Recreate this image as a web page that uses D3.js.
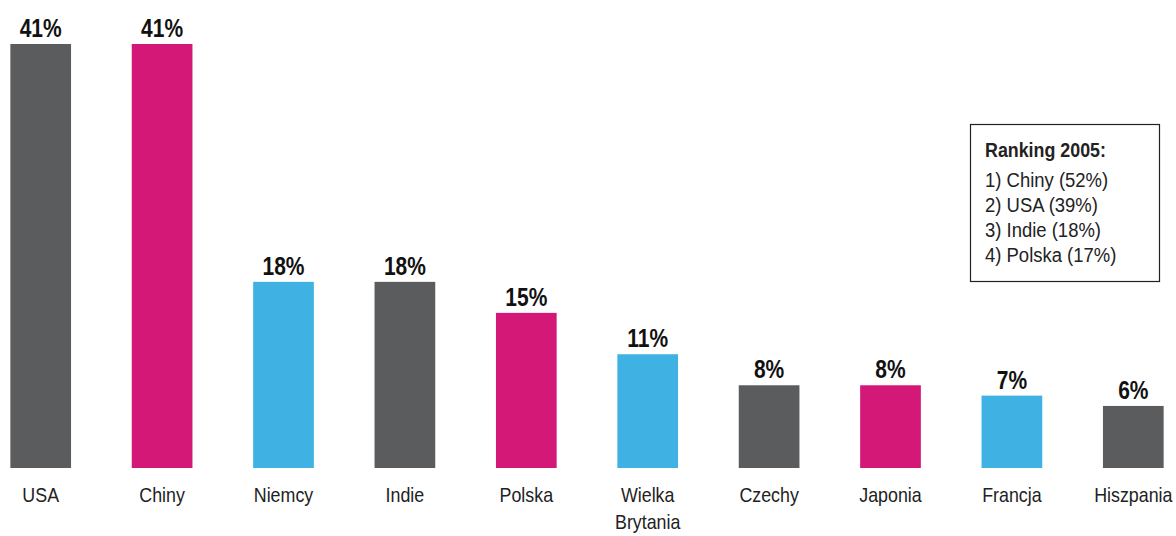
<!DOCTYPE html>
<html>
<head>
<meta charset="utf-8">
<script src="https://cdn.jsdelivr.net/npm/d3@7"></script>
<style>
  body { margin: 0; background: #fff; }
  svg { display: block; font-family: "Liberation Sans Narrow", "Arial Narrow", "Liberation Sans", sans-serif; }
</style>
</head>
<body>
<div id="chart"></div>
<script>
// dane z wykresu
const countries = ['USA', 'Chiny', 'Niemcy', 'Indie', 'Polska', 'Wielka Brytania', 'Czechy', 'Japonia', 'Francja', 'Hiszpania'];
const shares = [41, 41, 18, 18, 15, 11, 8, 8, 7, 6];
const barColors = ['#5b5c5e', '#d31877', '#3fb2e3'];
const rankingTitle = 'Ranking 2005:';
const ranking = ['1) Chiny (52%)', '2) USA (39%)', '3) Indie (18%)', '4) Polska (17%)'];

var w = 1176, h = 536;
// brak czcionki waskiej - sciskamy w poziomie
var squeeze = 0.85, squeezeBold = 0.84, squeezeBox = 0.88;

var svg = d3.select('#chart')
  .append('svg')
  .attr('width', w)
  .attr('height', h);

var x = d3.scaleBand()
  .domain(countries)
  .range([-20, 1194])
  .paddingInner(0.5)
  .paddingOuter(0.25);

var y = d3.scaleLinear()
  .domain([0, 41])
  .range([468, 44]);

function mid(d) { return x(d) + x.bandwidth() / 2; }

svg.selectAll('rect.bar')
  .data(countries)
  .enter()
  .append('rect')
  .attr('class', 'bar')
  .attr('x', d => x(d))
  .attr('width', x.bandwidth())
  .attr('y', (d, i) => y(shares[i]))
  .attr('height', (d, i) => y(0) - y(shares[i]))
  .attr('fill', (d, i) => barColors[i % 3]);

svg.selectAll('text.value')
  .data(countries)
  .enter()
  .append('text')
  .attr('class', 'value')
  .attr('transform', (d, i) => `translate(${mid(d)},${y(shares[i]) - 7}) scale(${squeezeBold},1)`)
  .attr('text-anchor', 'middle')
  .style('font-weight', 'bold')
  .style('font-size', '25px')
  .style('fill', '#111')
  .text((d, i) => shares[i] + '%');

// podpisy krajow, dwuwyrazowe lamane
var labels = svg.selectAll('text.label')
  .data(countries)
  .enter()
  .append('text')
  .attr('class', 'label')
  .attr('transform', d => `translate(${mid(d)},502) scale(${squeeze},1)`)
  .attr('text-anchor', 'middle')
  .style('font-size', '21px')
  .style('fill', '#222');

labels.each(function(d) {
  var words = d.split(' ');
  var el = d3.select(this);
  words.forEach(function(word, i) {
    el.append('tspan')
      .attr('x', 0)
      .attr('dy', i == 0 ? 0 : 27)
      .text(word);
  });
});

// ramka z rankingiem
var box = svg.append('g');
box.append('rect')
  .attr('x', 970.5)
  .attr('y', 124.5)
  .attr('width', 189)
  .attr('height', 157)
  .attr('fill', '#fff')
  .attr('stroke', '#222')
  .attr('stroke-width', 1.2);

box.append('text')
  .attr('transform', `translate(985,157) scale(${squeeze},1)`)
  .style('font-weight', 'bold')
  .style('font-size', '21px')
  .style('fill', '#222')
  .text(rankingTitle);

box.selectAll('text.rank')
  .data(ranking)
  .enter()
  .append('text')
  .attr('class', 'rank')
  .attr('transform', (d, i) => `translate(985,${187 + i * 25}) scale(${squeezeBox},1)`)
  .style('font-size', '21px')
  .style('fill', '#222')
  .text(d => d);
</script>
</body>
</html>
